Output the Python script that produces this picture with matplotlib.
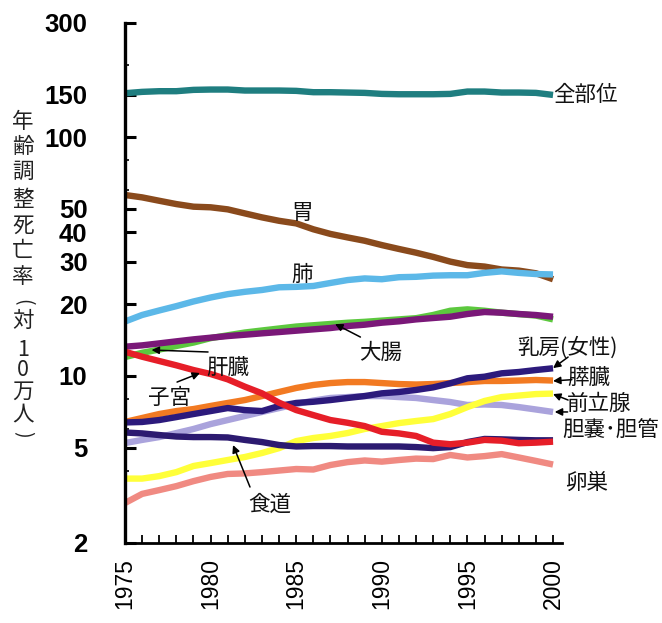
import matplotlib
matplotlib.use('Agg')
import matplotlib.pyplot as plt
from matplotlib.ticker import FixedLocator, FixedFormatter, NullFormatter

# ---------------- data ----------------
years = list(range(1975, 2001))

all_sites = [152.5, 154.5, 155.5, 155.5, 157.5, 158, 158, 156.5, 156.5, 156.5, 156, 154, 154,
             153.5, 153, 151.5, 151, 151, 151, 151.5, 155, 155, 153.5, 153.5, 153, 150]
stomach = [57.2, 55.9, 54.1, 52.4, 51.1, 50.8, 49.8, 47.9, 46.1, 44.6, 43.5, 41.1, 39.3,
           38.0, 36.8, 35.3, 34.0, 32.8, 31.5, 30.1, 29.1, 28.7, 27.9, 27.6, 26.9, 25.4]
lung = [16.9, 18.0, 18.8, 19.6, 20.5, 21.3, 22.0, 22.5, 22.9, 23.5, 23.6, 23.8, 24.5,
        25.2, 25.6, 25.4, 25.9, 26.0, 26.3, 26.4, 26.4, 27.0, 27.4, 27.0, 26.7, 26.6]
liver = [12.0, 12.5, 12.9, 13.35, 13.8, 14.4, 14.8, 15.2, 15.5, 15.8, 16.1, 16.3, 16.5,
         16.7, 16.85, 17.05, 17.25, 17.45, 18.0, 18.75, 19.0, 18.75, 18.4, 18.15, 17.9, 17.25]
colorectum = [13.26, 13.43, 13.69, 13.96, 14.23, 14.46, 14.69, 14.88, 15.08, 15.27, 15.47, 15.67, 15.87,
              16.18, 16.39, 16.71, 16.93, 17.25, 17.48, 17.70, 18.17, 18.52, 18.40, 18.17, 17.99, 17.70]
uterus = [12.63, 12.04, 11.55, 11.08, 10.59, 10.19, 9.68, 9.02, 8.46, 7.73, 7.20, 6.86, 6.54,
          6.37, 6.17, 5.84, 5.75, 5.61, 5.26, 5.18, 5.26, 5.40, 5.36, 5.23, 5.26, 5.31]
pancreas = [6.42, 6.67, 6.93, 7.13, 7.27, 7.49, 7.71, 7.93, 8.24, 8.57, 8.91, 9.17, 9.34,
            9.43, 9.43, 9.34, 9.25, 9.21, 9.25, 9.34, 9.43, 9.53, 9.53, 9.57, 9.62, 9.57]
breast = [6.39, 6.42, 6.54, 6.73, 6.93, 7.13, 7.34, 7.20, 7.13, 7.49, 7.71, 7.80, 7.93,
          8.09, 8.24, 8.46, 8.57, 8.74, 8.96, 9.32, 9.78, 9.93, 10.26, 10.39, 10.59, 10.77]
gallbladder = [5.24, 5.40, 5.55, 5.77, 6.00, 6.29, 6.54, 6.80, 7.07, 7.34, 7.63, 7.89, 8.09,
               8.16, 8.24, 8.24, 8.16, 8.09, 7.93, 7.78, 7.56, 7.60, 7.56, 7.41, 7.24, 7.07]
esophagus = [5.80, 5.75, 5.66, 5.58, 5.55, 5.55, 5.53, 5.40, 5.29, 5.14, 5.07, 5.09, 5.09,
             5.07, 5.07, 5.07, 5.07, 5.04, 4.99, 5.04, 5.29, 5.45, 5.43, 5.40, 5.38, 5.38]
prostate = [3.72, 3.72, 3.81, 3.96, 4.20, 4.32, 4.45, 4.58, 4.76, 4.99, 5.34, 5.50, 5.61,
            5.77, 6.00, 6.17, 6.35, 6.48, 6.60, 6.93, 7.41, 7.86, 8.16, 8.28, 8.40, 8.44]
ovary = [2.94, 3.21, 3.33, 3.46, 3.63, 3.78, 3.89, 3.91, 3.96, 4.02, 4.08, 4.06, 4.24,
         4.36, 4.43, 4.38, 4.45, 4.51, 4.49, 4.67, 4.56, 4.62, 4.71, 4.56, 4.41, 4.26]

y_major = [2, 5, 10, 20, 30, 40, 50, 100, 150, 300]
y_major_labels = ['2', '5', '10', '20', '30', '40', '50', '100', '150', '300']
y_minor = [4, 6, 8, 60, 80, 200]
x_major = [1975, 1980, 1985, 1990, 1995, 2000]

# vertical y-axis label: 年齢調整死亡率(対10万人)
ylabel_chars = ['年', '齢', '調', '整', '死', '亡', '率', '(', '対', '1', '0', '万', '人', ')']

# ---------------- style ----------------
CJK = ['Noto Sans CJK JP', 'DejaVu Sans']
series = [
    (all_sites, '#1f7e80'),
    (stomach, '#8a4a1c'),
    (lung, '#5cb8e8'),
    (liver, '#5cc83e'),
    (colorectum, '#7a1878'),
    (pancreas, '#f27a22'),
    (gallbladder, '#aaa3dc'),
    (breast, '#2c1a7c'),
    (prostate, '#ffff3a'),
    (esophagus, '#2c1a70'),
    (ovary, '#f08a82'),
    (uterus, '#e61e28'),
]

W, H = 662, 623
fig = plt.figure(figsize=(W / 100, H / 100), dpi=100)
ax = fig.add_axes([125 / W, (H - 543) / H, 436.6 / W, 520 / H])

for vals, col in series:
    ax.plot(years, vals, color=col, lw=4.6, solid_capstyle='butt', solid_joinstyle='round')

ax.set_yscale('log')
ax.set_ylim(2, 300)
ax.set_xlim(1975, 2000.5)

ax.yaxis.set_major_locator(FixedLocator(y_major))
ax.yaxis.set_major_formatter(FixedFormatter(y_major_labels))
ax.yaxis.set_minor_locator(FixedLocator(y_minor))
ax.yaxis.set_minor_formatter(NullFormatter())
ax.xaxis.set_major_locator(FixedLocator(x_major))
ax.xaxis.set_minor_locator(FixedLocator(years))

for s in ['top', 'right']:
    ax.spines[s].set_visible(False)
ax.spines['left'].set_linewidth(2.4)
ax.spines['bottom'].set_linewidth(2.0)

ax.tick_params(axis='y', which='major', direction='in', length=8, width=2.2, pad=27)
ax.tick_params(axis='y', which='minor', direction='in', length=3, width=1.2)
ax.tick_params(axis='x', which='both', direction='in', length=6, width=1.3, pad=11)

for lab in ax.get_yticklabels():
    lab.set_fontfamily('Liberation Sans')
    lab.set_fontweight('bold')
    lab.set_fontsize(18.5)
ax.set_xticklabels([str(v) for v in x_major], rotation=90, fontfamily='Liberation Sans',
                   fontsize=16.5, va='top')

ylabel_y = [122, 147, 172, 200, 226, 251, 277, 302, 321, 350, 370, 392, 414, 434]
for ch, py in zip(ylabel_chars, ylabel_y):
    rot = -90 if ch in '()' else 0
    fs = 14 if ch in '()' else 15.5
    fig.text(23 / W, 1 - py / H, ch, ha='center', va='center', fontsize=fs, rotation=rot,
             rotation_mode='anchor', family=CJK, color='#222222')

# labels
tkw = dict(fontsize=15.5, family=CJK, color='#111111', va='center')
ax.text(2000.0, 150, '全部位', ha='left', **tkw)
ax.text(1985.35, 48.1, '胃', ha='center', **tkw)
ax.text(1985.35, 26.4, '肺', ha='center', **tkw)
ax.text(1989.9, 12.47, '大腸', ha='center', **tkw)
ax.text(1981.0, 10.79, '肝臓', ha='center', **tkw)
ax.text(1977.57, 8.09, '子宮', ha='center', **tkw)
ax.text(1983.47, 2.88, '食道', ha='center', **tkw)
ax.text(1997.9, 13.2, '乳房(女性)', ha='left', **tkw)
ax.text(2000.85, 9.80, '膵臓', ha='left', **tkw)
ax.text(2000.8, 7.63, '前立腺', ha='left', **tkw)
ax.text(2000.55, 5.88, '胆嚢･胆管', ha='left', **tkw)
ax.text(2000.7, 3.56, '卵巣', ha='left', **tkw)

akw = dict(arrowstyle='-|>', color='black', lw=1.1, mutation_scale=11, shrinkA=0, shrinkB=0)
arrows = [
    ((1987.27, 16.5), (1988.75, 14.55)),   # 大腸
    ((1976.55, 12.84), (1979.85, 12.6)),   # 肝臓
    ((1979.38, 10.29), (1978.04, 9.43)),   # 子宮
    ((1981.31, 5.14), (1982.3, 3.43)),     # 食道
    ((2000.0, 10.79), (2000.88, 12.0)),    # 乳房
    ((2000.0, 9.53), (2001.1, 9.65)),      # 膵臓
    ((2000.0, 8.40), (2000.88, 7.93)),     # 前立腺
    ((2000.1, 7.07), (2000.85, 7.07)),     # 胆嚢
]
for head, tail in arrows:
    ax.annotate('', xy=head, xytext=tail, arrowprops=akw, annotation_clip=False)

fig.savefig('out.png', dpi=100)
